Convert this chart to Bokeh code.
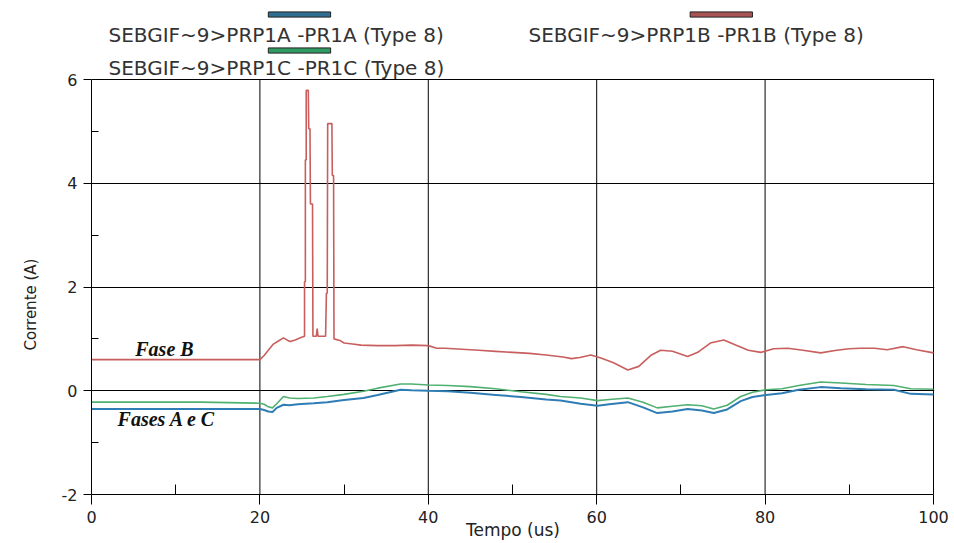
from bokeh.plotting import figure
from bokeh.models import FixedTicker, Range1d, ColumnDataSource, Title
from bokeh.core.properties import value
from bokeh.embed import file_html
from bokeh.resources import INLINE

# ---- data ----
t_b = [0, 20, 20.5, 21, 21.6, 22.2, 22.8, 23.2, 23.6, 24.2, 24.8, 25.3, 25.3, 25.4, 25.4, 25.5, 25.5,
       25.75, 25.8, 25.95, 26.0, 26.25, 26.3, 26.7, 26.8, 26.9, 27.8, 27.9, 28.0, 28.05, 28.55, 28.6,
       28.75, 28.8, 29.5, 30, 31, 32, 34, 36, 38, 40, 41, 42, 44, 46, 48, 50, 52, 54, 56, 57, 58,
       59.3, 60.5, 62, 63.7, 65, 66.5, 67.6, 69, 70.8, 72, 73.5, 75.1, 76.5, 78, 79.5, 81, 82.7,
       84.5, 86.6, 88.5, 90, 91.3, 93, 94.5, 96.4, 98, 100]
fase_b = [0.6, 0.6, 0.68, 0.78, 0.9, 0.96, 1.02, 0.98, 0.95, 0.98, 1.02, 1.05, 2.1, 2.1, 4.45, 4.45, 5.79,
          5.79, 5.05, 5.05, 3.6, 3.6, 1.05, 1.05, 1.2, 1.05, 1.05, 1.88, 1.88, 5.15, 5.15, 4.15,
          4.15, 1.0, 0.97, 0.92, 0.9, 0.88, 0.87, 0.87, 0.88, 0.87, 0.82, 0.82, 0.8, 0.78, 0.76, 0.74, 0.72, 0.69, 0.65, 0.62, 0.64,
          0.69, 0.63, 0.54, 0.40, 0.47, 0.69, 0.78, 0.76, 0.66, 0.74, 0.92, 0.98, 0.88, 0.78, 0.74, 0.81, 0.82,
          0.78, 0.73, 0.78, 0.81, 0.82, 0.82, 0.79, 0.85, 0.79, 0.73]

t_ac = [0, 13, 20, 20.5, 21, 21.5, 22, 22.8, 23.5, 24.5, 26.4, 28, 30, 32.3, 34, 36.7, 38, 40, 42.3, 45,
        48, 51, 54, 55.7, 58.1, 60.1, 61.5, 63.7, 65.5, 67.2, 69, 70.8, 72.5, 73.9, 75.5, 77.1, 78.5,
        80.1, 82, 84, 86.6, 89, 92, 95.3, 97.3, 100]
fase_a = [-0.35, -0.35, -0.35, -0.37, -0.40, -0.41, -0.33, -0.27, -0.28, -0.26, -0.24, -0.22, -0.18, -0.14,
          -0.08, 0.02, 0.01, 0.0, -0.01, -0.04, -0.08, -0.12, -0.17, -0.19, -0.25, -0.29, -0.26, -0.22,
          -0.32, -0.43, -0.40, -0.35, -0.38, -0.43, -0.36, -0.20, -0.12, -0.08, -0.05, 0.02, 0.07, 0.05,
          0.03, 0.02, -0.06, -0.07]
fase_c = [-0.22, -0.22, -0.24, -0.26, -0.31, -0.33, -0.25, -0.11, -0.14, -0.15, -0.14, -0.11, -0.07, -0.01,
          0.05, 0.13, 0.13, 0.11, 0.10, 0.08, 0.04, -0.02, -0.07, -0.11, -0.14, -0.19, -0.17, -0.14,
          -0.22, -0.33, -0.30, -0.27, -0.29, -0.35, -0.28, -0.11, -0.03, 0.02, 0.04, 0.10, 0.17, 0.15,
          0.12, 0.10, 0.04, 0.03]

legend_names = ["SEBGIF~9>PRP1A -PR1A  (Type 8)",
                "SEBGIF~9>PRP1B -PR1B  (Type 8)",
                "SEBGIF~9>PRP1C -PR1C  (Type 8)"]
x_ticks = [0, 20, 40, 60, 80, 100]
x_minor = [10, 30, 50, 70, 90]
y_ticks = [-2, 0, 2, 4, 6]
y_minor = [-1, 1, 3, 5]
y_tick_labels = ["-2", "0", "2", "4", "6"]

col_a = "#2f7db5"
col_b = "#c85e5e"
col_c = "#4fb070"
bar_a = "#2f6f92"
bar_b = "#a85454"
bar_c = "#2f9a62"

FONT = "DejaVu Sans"

# frame is extended upward so that the legend (above the data area) can be drawn inside it
Y_TOP = 7.523
p = figure(width=954, height=543, x_range=Range1d(0, 100.12), y_range=Range1d(-2, Y_TOP),
           output_backend="svg", toolbar_location=None,
           min_border_left=91, min_border_right=20, min_border_top=0, min_border_bottom=49)
p.background_fill_color = "white"
p.border_fill_color = "white"
p.outline_line_color = None

# horizontal grid (0, 2, 4, 6 -> 6 is the top border)
p.ygrid.ticker = FixedTicker(ticks=y_ticks)
p.ygrid.grid_line_color = "black"
p.ygrid.grid_line_alpha = 1.0
p.ygrid.grid_line_width = 1
p.xgrid.visible = False
# vertical grid lines (20..100, the last one is the right border), limited to the data area
p.segment(x0=x_ticks[1:], y0=[y_ticks[0]] * (len(x_ticks) - 1),
          x1=x_ticks[1:], y1=[y_ticks[-1]] * (len(x_ticks) - 1),
          line_color="black", line_width=1)

# axes
p.xaxis.ticker = FixedTicker(ticks=x_ticks, minor_ticks=x_minor)
p.yaxis.ticker = FixedTicker(ticks=y_ticks, minor_ticks=y_minor)
p.xaxis.bounds = (x_ticks[0], x_ticks[-1])
p.yaxis.bounds = (y_ticks[0], y_ticks[-1])
p.yaxis.major_label_overrides = {t: s for t, s in zip(y_ticks, y_tick_labels)}
p.xaxis.major_label_overrides = {t: str(t) for t in x_ticks}
for ax in (p.xaxis, p.yaxis):
    ax.axis_line_color = "black"
    ax.major_tick_line_color = "black"
    ax.minor_tick_line_color = "black"
    ax.major_label_text_font = FONT
    ax.major_label_text_font_size = "16px"
    ax.major_label_text_color = "#222222"
    ax.axis_label_text_font = FONT
    ax.axis_label_text_font_style = "normal"
    ax.axis_label_text_color = "#222222"
p.xaxis.major_tick_in = 0
p.xaxis.major_tick_out = 10
p.xaxis.minor_tick_in = 10
p.xaxis.minor_tick_out = 0
p.xaxis.major_label_standoff = 6
p.xaxis.axis_label = "Tempo (us)"
p.xaxis.axis_label_text_font_size = "17px"
p.xaxis.axis_label_standoff = -6
p.yaxis.major_tick_in = 0
p.yaxis.major_tick_out = 8
p.yaxis.minor_tick_in = 7
p.yaxis.minor_tick_out = 0
p.yaxis.major_label_standoff = 6

# y axis title, placed beside the data area (not centred on the taller frame)
p.add_layout(Title(text="Corrente (A)", align="left", offset=144, standoff=37,
                   text_font=FONT, text_font_size="15px", text_font_style="normal",
                   text_color="#222222"), "left")

# curves
p.line(t_ac, fase_c, line_color=col_c, line_width=1.6)
p.line(t_ac, fase_a, line_color=col_a, line_width=2)
p.line(t_b, fase_b, line_color=col_b, line_width=1.6)

# curve annotations
ann = ColumnDataSource(dict(x=[5.2, 3.1], y=[0.8, -0.55], t=["Fase B", "Fases A e C"]))
p.text(x="x", y="y", text="t", source=ann, text_font=value("Liberation Serif"),
       text_font_style="bold italic", text_font_size="20px", text_color="#111111",
       text_baseline="middle", text_align="left")

# legend (a coloured bar above each series name)
leg = ColumnDataSource(dict(x=[2.02, 51.9, 2.02], y=[6.867, 6.867, 6.231], t=legend_names))
p.text(x="x", y="y", text="t", source=leg, text_font=value(FONT), text_font_size="20px",
       text_color="#333333", text_baseline="middle", text_align="left")
bars = ColumnDataSource(dict(left=[21.0, 71.1, 21.0], right=[28.4, 78.5, 28.4],
                             bottom=[7.203, 7.203, 6.509], top=[7.303, 7.303, 6.609],
                             c=[bar_a, bar_b, bar_c]))
p.quad(left="left", right="right", bottom="bottom", top="top", source=bars,
       fill_color="c", line_color="#222222", line_width=1)

open("out.html", "w").write(file_html(p, INLINE))
